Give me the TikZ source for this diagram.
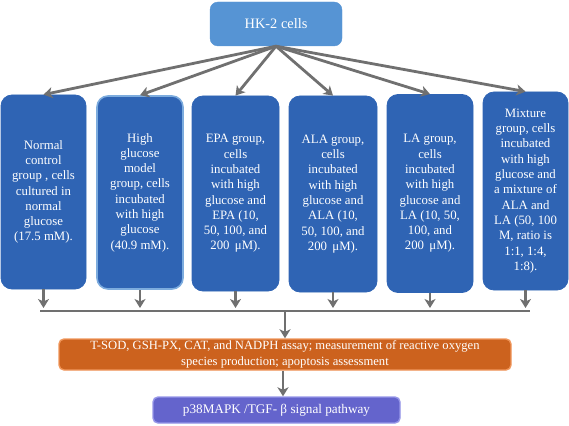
\documentclass[tikz,border=0pt]{standalone}
\usepackage{fontspec}
\setmainfont{Liberation Serif}
\usetikzlibrary{arrows.meta}
\definecolor{hkblue}{RGB}{86,148,212}
\definecolor{boxblue}{RGB}{47,100,180}
\definecolor{lightrim}{RGB}{125,172,222}
\definecolor{orangefill}{RGB}{204,98,30}
\definecolor{orangerim}{RGB}{240,150,90}
\definecolor{purplefill}{RGB}{100,100,204}
\definecolor{purplerim}{RGB}{150,150,232}
\definecolor{arrgray}{RGB}{112,112,112}
\begin{document}
\begin{tikzpicture}[x=1pt,y=-1pt,
  grp/.style={rounded corners=11pt, fill=boxblue, draw=boxblue, line width=0.8pt,
    text=white, align=center, inner sep=0pt,
    font=\fontsize{12.8}{15.3}\selectfont},
  arr/.style={draw=arrgray, line width=2.8pt, -{Stealth[length=9pt,width=11pt,inset=2.5pt]}},
  bus/.style={draw=arrgray, line width=2.8pt}]
\useasboundingbox (0,0) rectangle (569,425);

\node[rounded corners=8pt, fill=hkblue, draw=hkblue, text=white,
  minimum width=132pt, minimum height=44pt, inner sep=0pt,
  font=\fontsize{14.4}{16}\selectfont] (hk) at (276,24) {HK-2 cells};

\node[grp, minimum width=85pt, minimum height=194pt] (b1) at (43.5,192)
  {Normal\\control\\group , cells\\cultured in\\normal\\glucose\\(17.5 mM).};
\node[grp, draw=lightrim, line width=1.6pt, minimum width=86pt, minimum height=193pt] (b2) at (140,192.5)
  {High\\glucose\\model\\group, cells\\incubated\\with high\\glucose\\(40.9 mM).};
\node[grp, minimum width=87pt, minimum height=195pt] (b3) at (235.5,193.5)
  {EPA group,\\cells\\incubated\\with high\\glucose and\\EPA (10,\\50, 100, and\\200 \,μM).};
\node[grp, minimum width=88pt, minimum height=196pt] (b4) at (333,194)
  {ALA group,\\cells\\incubated\\with high\\glucose and\\ALA (10,\\50, 100, and\\200 \,μM).};
\node[grp, minimum width=86pt, minimum height=198pt] (b5) at (430,193.5)
  {LA group,\\cells\\incubated\\with high\\glucose and\\LA (10, 50,\\100, and\\200 \,μM).};
\node[grp, minimum width=85pt, minimum height=198pt] (b6) at (525.5,191)
  {Mixture\\group, cells\\incubated\\with high\\glucose and\\a mixture of\\ALA and\\LA (50, 100\\M, ratio is\\1:1, 1:4,\\1:8).};

\node[rounded corners=5pt, fill=orangefill, draw=orangerim, line width=1.4pt,
  text=white, align=center, inner sep=0pt,
  minimum width=452pt, minimum height=31pt,
  font=\fontsize{12.6}{16}\selectfont] (as) at (285,354.5)
  {T-SOD, GSH-PX, CAT, and NADPH assay; measurement of reactive oxygen\\species production; apoptosis assessment};

\node[rounded corners=5pt, fill=purplefill, draw=purplerim, line width=1.4pt,
  text=white, inner sep=0pt, minimum width=247pt, minimum height=26pt,
  font=\fontsize{13.2}{15}\selectfont] (pw) at (276.5,410)
  {p38MAPK /TGF- β signal pathway};

% arrows from HK-2 cells
\foreach \b in {b1,b2,b3,b4,b5,b6}
  \draw[arr] (hk.south) -- (\b.north);

% collector
\coordinate (busL) at (40,311);
\coordinate (busR) at (530,311);
\coordinate (tipy) at (0,308);
\draw[bus] (busL) -- (busR);
\foreach \b in {b1,b2,b3,b4,b5,b6}
  \draw[arr] (\b.south) -- (\b.south |- tipy);
\coordinate (busM) at (as.north |- busL);
\draw[arr] (busM) -- (as.north);
\draw[arr] (as.south -| 283,0) -- (pw.north -| 283,0);
\end{tikzpicture}
\end{document}
